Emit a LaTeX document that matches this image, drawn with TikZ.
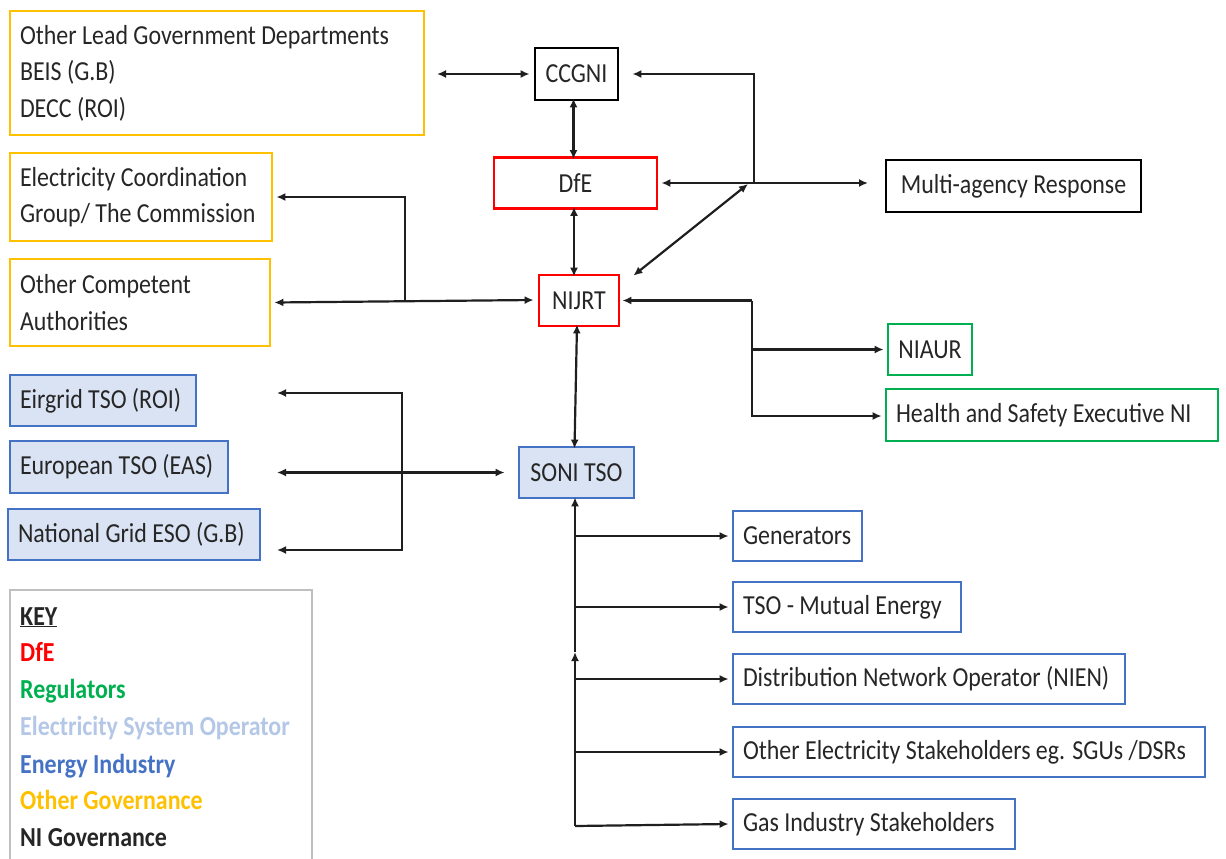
\documentclass[tikz,border=0pt]{standalone}
\usepackage{fontspec}
\setmainfont[FakeStretch=0.87]{Carlito}
\usetikzlibrary{arrows.meta}
\definecolor{ogold}{HTML}{FFC000}
\definecolor{dred}{HTML}{FF0000}
\definecolor{rgreen}{HTML}{00B050}
\definecolor{eblue}{HTML}{4472C4}
\definecolor{lblue}{HTML}{DAE3F3}
\definecolor{kblue}{HTML}{B4C7E7}
\definecolor{kgray}{HTML}{BFBFBF}
\definecolor{txt}{HTML}{262626}
\tikzset{
  box/.style={draw, line width=2.8pt, inner sep=0pt, text=txt,
    font=\fontsize{27.5}{36.5}\selectfont},
  lbox/.style={box, align=flush left, inner xsep=10pt},
  gov/.style={draw=ogold},
  dfebox/.style={draw=dred},
  ni/.style={draw=black},
  reg/.style={draw=rgreen},
  eso/.style={draw=eblue, fill=lblue},
  ind/.style={draw=eblue},
  conn/.style={line width=2.2pt, draw=black!88},
  tip/.style={-{Latex[length=9pt,width=8pt]}},
  dtip/.style={{Latex[length=9pt,width=8pt]}-{Latex[length=9pt,width=8pt]}},
  keytext/.style={anchor=base west, inner sep=0pt, font=\fontsize{27.5}{33}\selectfont\bfseries},
}
\begin{document}
\begin{tikzpicture}[x=1pt,y=-1pt]
\useasboundingbox (0,0) rectangle (1226,859);
\clip (0,0) rectangle (1226,859);
% nodes
\node[lbox,gov,minimum width=414pt,minimum height=124pt,text width=394pt] (olgd) at (217,73)
  {\mbox{Other Lead Government Departments}\\\mbox{BEIS (G.B)}\\\mbox{DECC (ROI)}};
\node[box,ni,minimum width=83pt,minimum height=52pt] (ccgni) at (576.5,74) {CCGNI};
\node[box,dfebox,minimum width=163pt,minimum height=51pt] (dfe) at (575.5,183) {DfE};
\node[box,ni,minimum width=255pt,minimum height=52pt] (mar) at (1013.5,186) {Multi-agency Response};
\node[lbox,gov,minimum width=262pt,minimum height=88pt,text width=242pt] (ecg) at (141,197)
  {\mbox{Electricity Coordination}\\\mbox{Group/ The Commission}};
\node[lbox,gov,minimum width=260pt,minimum height=87pt,text width=240pt] (oca) at (140,302.5)
  {\mbox{Other Competent}\\\mbox{Authorities}};
\node[box,dfebox,minimum width=80pt,minimum height=51pt] (nijrt) at (579,300.5) {NIJRT};
\node[box,reg,minimum width=84pt,minimum height=51pt] (niaur) at (930,349.5) {NIAUR};
\node[lbox,reg,minimum width=332pt,minimum height=52pt,text width=312pt] (hse) at (1052,415)
  {\mbox{Health and Safety Executive NI}};
\node[lbox,eso,minimum width=186pt,minimum height=51pt,text width=166pt] (eir) at (103,400.5) {\mbox{Eirgrid TSO (ROI)}};
\node[lbox,eso,minimum width=218pt,minimum height=52pt,text width=198pt] (eur) at (119,467) {\mbox{European TSO (EAS)}};
\node[lbox,eso,minimum width=252pt,minimum height=51pt,text width=232pt] (ngr) at (134,534.5) {\mbox{National Grid ESO (G.B)}};
\node[box,eso,minimum width=115pt,minimum height=51pt] (soni) at (576.5,472.5) {SONI TSO};
\node[lbox,ind,minimum width=129pt,minimum height=50pt,text width=109pt] (gen) at (797.5,536) {\mbox{Generators}};
\node[lbox,ind,minimum width=228pt,minimum height=50pt,text width=208pt] (tso) at (847,607) {\mbox{TSO - Mutual Energy}};
\node[lbox,ind,minimum width=392pt,minimum height=50pt,text width=372pt] (dno) at (929,679) {\mbox{Distribution Network Operator (NIEN)}};
\node[lbox,ind,minimum width=472pt,minimum height=50pt,text width=452pt] (oes) at (969,752) {\mbox{Other Electricity Stakeholders eg. SGUs /DSRs}};
\node[lbox,ind,minimum width=282pt,minimum height=50pt,text width=262pt] (gas) at (874,824) {\mbox{Gas Industry Stakeholders}};
% key
\draw[draw=kgray,line width=2.2pt] (10,590) rectangle (312,880);
\node[keytext,text=txt] (k0) at (20,625) {\underline{KEY}};
\node[keytext,text=dred] (k1) at (20,661) {DfE};
\node[keytext,text=rgreen] (k2) at (20,698) {Regulators};
\node[keytext,text=kblue] (k3) at (20,735) {Electricity System Operator};
\node[keytext,text=eblue] (k4) at (20,773) {Energy Industry};
\node[keytext,text=ogold] (k5) at (20,809) {Other Governance};
\node[keytext,text=txt] (k6) at (20,846) {NI Governance};
% coordinates
\coordinate (a1) at (437,74);
\coordinate (j1) at (754,183);
\coordinate (j2) at (748,184);
\coordinate (mr) at (868,183);
\coordinate (j3) at (405,301);
\coordinate (r1) at (752,300.5);
\coordinate (r2) at (752,349.5);
\coordinate (r3) at (752,416);
\coordinate (e1) at (277,393);
\coordinate (e2) at (277,472.5);
\coordinate (e3) at (277,550);
\coordinate (v1) at (402,393);
\coordinate (v2) at (402,550);
\coordinate (b0) at (575,826);
\coordinate (bm) at (575,652);
% connectors
\draw[conn,dtip] (a1) -- ([xshift=-4pt]ccgni.west);
\draw[conn,dtip] ([xshift=-3pt,yshift=3pt]ccgni.south) -- ([xshift=-2pt,yshift=-3pt]dfe.north);
\draw[conn,dtip] ([xshift=-1.5pt,yshift=3pt]dfe.south) -- ([xshift=-5pt,yshift=-3pt]nijrt.north);
\draw[conn,dtip] ([xshift=3pt]dfe.east) -- (mr);
\draw[conn,tip] (j1) -- (754,74) -- ([xshift=13pt]ccgni.east);
\draw[conn,dtip] (j2) -- ([xshift=13pt,yshift=-2pt]nijrt.north east);
\draw[conn,dtip] ([xshift=3pt]oca.east) -- ([xshift=-4pt,yshift=0.5pt]nijrt.west);
\draw[conn,tip] (j3) |- ([xshift=3pt]ecg.east);
\draw[conn,tip] (r1) -- ([xshift=2pt]nijrt.east);
\draw[conn,tip] (r1) -- (r3) -- ([xshift=-3pt]hse.west|-r3);
\draw[conn,tip] (r2) -- ([xshift=-3pt]niaur.west);
\draw[conn,dtip] ([xshift=-2pt,yshift=3pt]nijrt.south) -- ([xshift=-2pt,yshift=-3pt]soni.north);
\draw[conn,dtip] (e2) -- ([xshift=-13pt]soni.west);
\draw[conn,dtip] (e1) -- (v1) -- (v2) -- (e3);
\draw[conn,tip] (bm) -- ([xshift=-1.5pt,yshift=2pt]soni.south);
\draw[conn,tip] (b0) -- (bm);
\draw[conn,tip] (b0) -- ([xshift=-3pt]gas.west);
\draw[conn,tip] (575,536) -- ([xshift=-3pt]gen.west);
\draw[conn,tip] (575,607) -- ([xshift=-3pt]tso.west);
\draw[conn,tip] (575,679) -- ([xshift=-3pt]dno.west);
\draw[conn,tip] (575,752) -- ([xshift=-3pt]oes.west);
\end{tikzpicture}
\end{document}
